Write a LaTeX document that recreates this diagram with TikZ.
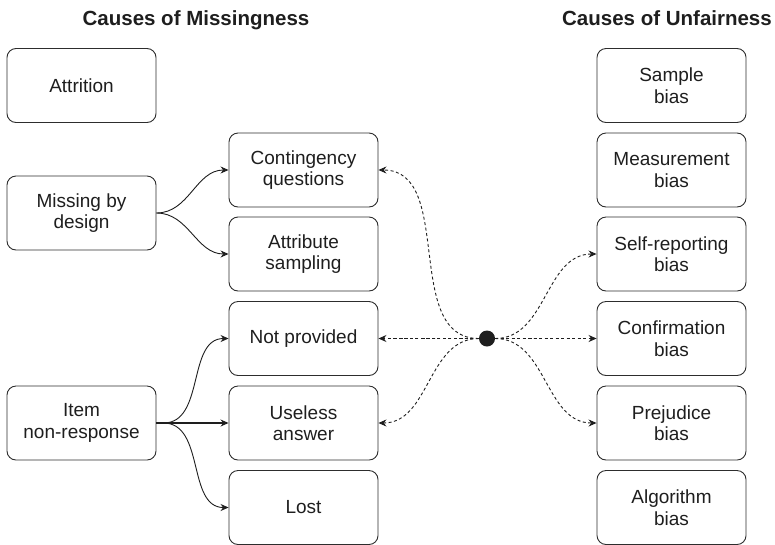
\documentclass[tikz,border=0pt]{standalone}
\usepackage{fontspec}
\setmainfont{Liberation Sans}
\usepackage{tikz}
\usetikzlibrary{arrows.meta}
\definecolor{boxline}{RGB}{45, 45, 45}
\definecolor{inkblack}{RGB}{30, 30, 30}

\begin{document}
\begin{tikzpicture}[x=1pt, y=-1pt,
  causebox/.style={draw=boxline, line width=0.9pt, rounded corners=9pt, minimum width=149pt, minimum height=74pt, align=center, inner sep=2pt, text=inkblack, font=\fontsize{19}{21.5}\selectfont},
  heading/.style={anchor=base, text=inkblack, font=\fontsize{20.5}{24}\selectfont\bfseries},
  link/.style={draw=inkblack, line width=0.9pt, -{Stealth[length=8pt, width=7pt]}},
  dashlink/.style={link, dash pattern=on 3pt off 2.5pt}]
  \useasboundingbox (0,0) rectangle (775,544);

  % Headings
  \node[heading] (hmiss) at (196, 25) {Causes of Missingness};
  \node[heading] (hunfair) at (667, 25) {Causes of Unfairness};

  % Left column
  \node[causebox] (attrition) at (81.5, 85.5) {Attrition};
  \node[causebox] (design) at (81.5, 213) {Missing by\\design};
  \node[causebox] (item) at (81.5, 423) {Item\\non-response};

  % Middle column
  \node[causebox] (contingency) at (303.5, 170) {Contingency\\questions};
  \node[causebox] (attribute) at (303.5, 254) {Attribute\\sampling};
  \node[causebox] (notprov) at (303.5, 338.5) {Not provided};
  \node[causebox] (useless) at (303.5, 423) {Useless\\answer};
  \node[causebox] (lost) at (303.5, 507.5) {Lost};

  % Right column
  \node[causebox] (sample) at (671.5, 85.5) {Sample\\bias};
  \node[causebox] (measure) at (671.5, 170) {Measurement\\bias};
  \node[causebox] (selfrep) at (671.5, 254) {Self-reporting\\bias};
  \node[causebox] (confirm) at (671.5, 338.5) {Confirmation\\bias};
  \node[causebox] (prejudice) at (671.5, 423) {Prejudice\\bias};
  \node[causebox] (algorithm) at (671.5, 507.5) {Algorithm\\bias};

  % Hub
  \node[circle, fill=inkblack, minimum size=16pt, inner sep=0pt] (hub) at (487, 338.5) {};

  % Solid links
  \draw[link] (design.east) to[out=0, in=180] (contingency.west);
  \draw[link] (design.east) to[out=0, in=180] (attribute.west);
  \draw[link] (item.east) -- ++(7,0) to[out=0, in=180] (notprov.west);
  \draw[link, line width=1.5pt] (item.east) -- (useless.west);
  \draw[link] (item.east) -- ++(7,0) to[out=0, in=180] (lost.west);

  % Dashed links from hub
  \draw[dashlink] (hub) to[out=180, in=0] (contingency.east);
  \draw[dashlink] (hub) to[out=180, in=0] (notprov.east);
  \draw[dashlink] (hub) to[out=180, in=0] (useless.east);
  \draw[dashlink] (hub) to[out=0, in=180] (selfrep.west);
  \draw[dashlink] (hub) to[out=0, in=180] (confirm.west);
  \draw[dashlink] (hub) to[out=0, in=180] (prejudice.west);
\end{tikzpicture}
\end{document}
